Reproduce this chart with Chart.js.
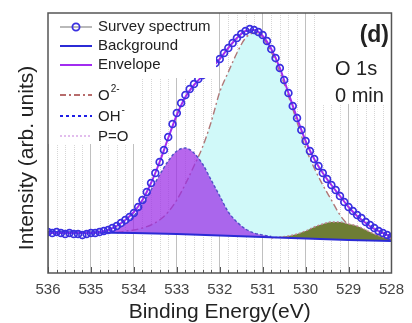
<!DOCTYPE html>
<html>
<head>
<meta charset="utf-8">
<script src="https://cdn.jsdelivr.net/npm/chart.js@4/dist/chart.umd.min.js"></script>
<style>
  body { margin: 0; background: #fff; }
  canvas { display: block; }
</style>
</head>
<body>
<canvas id="xps" width="412" height="323"></canvas>
<script>
// Binding energy axis (eV) and tick labels
const majorTicks = [536, 535, 534, 533, 532, 531, 530, 529, 528];

// Survey spectrum, 0.1 eV steps (arb. units)
const surveyE = [536.0, 535.9, 535.8, 535.7, 535.6, 535.5, 535.4, 535.3, 535.2, 535.1,
  535.0, 534.9, 534.8, 534.7, 534.6, 534.5, 534.4, 534.3, 534.2, 534.1,
  534.0, 533.9, 533.8, 533.7, 533.6, 533.5, 533.4, 533.3, 533.2, 533.1,
  533.0, 532.9, 532.8, 532.7, 532.6, 532.5, 532.4, 532.3, 532.2, 532.1,
  532.0, 531.9, 531.8, 531.7, 531.6, 531.5, 531.4, 531.3, 531.2, 531.1,
  531.0, 530.9, 530.8, 530.7, 530.6, 530.5, 530.4, 530.3, 530.2, 530.1,
  530.0, 529.9, 529.8, 529.7, 529.6, 529.5, 529.4, 529.3, 529.2, 529.1,
  529.0, 528.9, 528.8, 528.7, 528.6, 528.5, 528.4, 528.3, 528.2, 528.1, 528.0];
const survey = [41, 40, 41, 40, 39, 40, 39, 39, 38, 39,
  40, 40, 41, 42, 43, 45, 47, 50, 53, 56,
  60, 66, 73, 81, 90, 100, 111, 123, 136, 149,
  160, 170, 178, 184, 189, 194, 198, 202, 206, 210,
  214, 220, 225, 230, 235, 239, 242, 244, 243, 241,
  238, 232, 224, 215, 205, 193, 180, 167, 155, 143,
  132, 122, 114, 107, 100, 94, 88, 83, 77, 71,
  66, 62, 58, 55, 51, 48, 45, 42, 40, 38, 36];

// Envelope (fit sum)
const envelopeE = [536.0, 535.8, 535.6, 535.4, 535.2, 535.0, 534.8, 534.6, 534.4, 534.2,
  534.0, 533.8, 533.6, 533.4, 533.2, 533.0, 532.8, 532.6, 532.4, 532.2,
  532.0, 531.8, 531.6, 531.4, 531.2, 531.0, 530.8, 530.6, 530.4, 530.2,
  530.0, 529.8, 529.6, 529.4, 529.2, 529.0, 528.8, 528.6, 528.4, 528.2, 528.0];
const envelope = [40, 40, 40, 40, 40, 40, 41, 43, 47, 53,
  61, 73, 90, 111, 135, 158, 176, 188, 197, 205,
  214, 225, 235, 242, 243, 237, 224, 205, 180, 155,
  132, 114, 100, 88, 77, 66, 57, 50, 44, 40, 36];

// Background
const backgroundE = [536, 535, 534, 533, 532, 531, 530, 529, 528];
const background = [41, 40.5, 40, 39, 37.5, 36, 34.5, 33, 32];

// O2- component
const o2E = [534.4, 534.2, 534.0, 533.8, 533.6, 533.4, 533.2, 533.0, 532.8, 532.6,
  532.4, 532.2, 532.0, 531.8, 531.6, 531.4, 531.2, 531.0, 530.8, 530.6,
  530.4, 530.2, 530.0, 529.8, 529.6, 529.4, 529.2, 529.0, 528.8, 528.6, 528.4];
const o2 = [40, 42, 43, 45, 48, 53, 61, 73, 89, 107,
  126, 151, 181, 201, 220, 235, 240, 235, 221, 201,
  177, 151, 125, 105, 88, 73, 58, 48, 42, 37, 34];

// OH- component
const ohE = [534.8, 534.6, 534.4, 534.2, 534.0, 533.8, 533.6, 533.4, 533.2, 533.0,
  532.8, 532.6, 532.4, 532.2, 532.0, 531.8, 531.6, 531.4, 531.2, 531.0, 530.8];
const oh = [41, 41, 44, 49, 57, 69, 83, 98, 112, 122,
  125, 120, 109, 93, 77, 61, 51, 44, 40, 38, 36.5];

// P=O component
const poE = [530.8, 530.6, 530.4, 530.2, 530.0, 529.8, 529.6, 529.4, 529.2, 529.0,
  528.8, 528.6, 528.4, 528.2, 528.0];
const po = [35, 36, 37, 39, 42, 46, 49, 51, 51, 49,
  47, 43, 39, 36, 34];

const FONT = "'Liberation Sans', Arial, sans-serif";

function pts(xs, ys) {
  return xs.map((x, i) => ({ x: x, y: ys[i] }));
}

// minor grid every 0.2 eV
const minorTicks = [];
for (let k = 0; k <= 40; k++) minorTicks.push(528 + k * 0.2);

const minorGrid = {
  id: "minorGrid",
  beforeDatasetsDraw(chart) {
    const { ctx, chartArea: a, scales: { x } } = chart;
    ctx.save();
    ctx.strokeStyle = "#d6d6d6";
    ctx.lineWidth = 1;
    ctx.setLineDash([1, 1]);
    minorTicks.forEach(v => {
      if (Math.abs(v - Math.round(v)) < 1e-6) return;
      const px = Math.round(x.getPixelForValue(v)) + 0.5;
      ctx.beginPath();
      ctx.moveTo(px, a.top);
      ctx.lineTo(px, a.bottom);
      ctx.stroke();
    });
    ctx.restore();
  }
};

function legendLine(ctx, y, color, width, dash) {
  ctx.save();
  ctx.strokeStyle = color;
  ctx.lineWidth = width;
  ctx.setLineDash(dash);
  ctx.beginPath();
  ctx.moveTo(60, y);
  ctx.lineTo(92, y);
  ctx.stroke();
  ctx.restore();
}

const overlay = {
  id: "overlay",
  afterDatasetsDraw(chart) {
    const { ctx, chartArea: a, scales: { x } } = chart;
    ctx.save();
    // white legend / label boxes
    ctx.fillStyle = "#fff";
    ctx.fillRect(a.left, a.top, 168, 65);
    ctx.fillRect(a.left, a.top + 65, 92, 66);
    ctx.fillRect(322, a.top, a.right - 322, 91);

    // inner tick marks
    ctx.strokeStyle = "#555";
    ctx.lineWidth = 1;
    minorTicks.forEach(v => {
      const major = Math.abs(v - Math.round(v)) < 1e-6;
      const px = Math.round(x.getPixelForValue(v)) + 0.5;
      ctx.beginPath();
      ctx.moveTo(px, a.bottom);
      ctx.lineTo(px, a.bottom - (major ? 6 : 3));
      ctx.stroke();
    });

    // frame
    ctx.strokeStyle = "#555";
    ctx.lineWidth = 1.5;
    ctx.strokeRect(a.left, a.top, a.right - a.left, a.bottom - a.top);

    // legend symbols
    legendLine(ctx, 27, "#8a8a8a", 1.2, []);
    ctx.beginPath();
    ctx.arc(76, 27, 3.6, 0, Math.PI * 2);
    ctx.strokeStyle = "#3a30e0";
    ctx.lineWidth = 1.8;
    ctx.stroke();
    legendLine(ctx, 46, "#2b2bd6", 2, []);
    legendLine(ctx, 65, "#a22cf0", 2, []);
    legendLine(ctx, 95, "#a03c3c", 1.6, [6, 3, 2, 3]);
    legendLine(ctx, 116, "#1e1ee6", 2, [3, 3]);
    legendLine(ctx, 136, "#d9a8e8", 1.5, [2, 2]);

    // legend text
    ctx.fillStyle = "#222";
    ctx.textBaseline = "middle";
    ctx.textAlign = "left";
    ctx.font = "15px " + FONT;
    ctx.fillText("Survey spectrum", 98, 27);
    ctx.fillText("Background", 98, 46);
    ctx.fillText("Envelope", 98, 65);
    ctx.fillText("O", 98, 96);
    ctx.fillText("OH", 98, 117);
    ctx.fillText("P=O", 98, 137);
    const wO = ctx.measureText("O").width;
    const wOH = ctx.measureText("OH").width;
    ctx.font = "10px " + FONT;
    ctx.fillText("2-", 98 + wO + 1, 89);
    ctx.fillText("-", 98 + wOH + 1, 110);

    // panel labels
    ctx.font = "bold 23px " + FONT;
    ctx.textAlign = "right";
    ctx.fillText("(d)", 389, 36);
    ctx.font = "20px " + FONT;
    ctx.textAlign = "left";
    ctx.fillText("O 1s", 335, 69);
    ctx.fillText("0 min", 335, 96);

    // y axis title
    ctx.save();
    ctx.translate(27, 158);
    ctx.rotate(-Math.PI / 2);
    ctx.textAlign = "center";
    ctx.font = "21px " + FONT;
    ctx.fillText("Intensity (arb. units)", 0, 0);
    ctx.restore();

    ctx.restore();
  }
};

new Chart(document.getElementById("xps"), {
  type: "line",
  data: {
    datasets: [
      {
        label: "Background",
        data: pts(backgroundE, background),
        borderColor: "#2b2bd6",
        borderWidth: 2.2,
        pointRadius: 0,
        fill: false,
        order: 3
      },
      {
        label: "O2-",
        data: pts(o2E, o2),
        borderColor: "#b07878",
        borderWidth: 1.4,
        borderDash: [7, 3, 2, 3],
        backgroundColor: "#d0f9f9",
        pointRadius: 0,
        cubicInterpolationMode: "monotone",
        fill: { target: 0 },
        order: 6
      },
      {
        label: "OH-",
        data: pts(ohE, oh),
        borderColor: "#5050c8",
        borderWidth: 1.4,
        borderDash: [3, 2],
        backgroundColor: "rgba(155, 45, 230, 0.72)",
        pointRadius: 0,
        cubicInterpolationMode: "monotone",
        fill: { target: 0 },
        order: 5
      },
      {
        label: "P=O",
        data: pts(poE, po),
        borderColor: "#c08090",
        borderWidth: 1.4,
        borderDash: [2, 2],
        backgroundColor: "#6e7d35",
        pointRadius: 0,
        cubicInterpolationMode: "monotone",
        fill: { target: 0 },
        order: 4
      },
      {
        label: "Envelope",
        data: pts(envelopeE, envelope),
        borderColor: "#a22cf0",
        borderWidth: 2,
        pointRadius: 0,
        cubicInterpolationMode: "monotone",
        fill: false,
        order: 2
      },
      {
        label: "Survey spectrum",
        data: pts(surveyE, survey),
        showLine: false,
        pointRadius: 3.4,
        pointBorderWidth: 1.7,
        pointBorderColor: "#3a30e0",
        pointBackgroundColor: "rgba(0,0,0,0)",
        order: 1
      }
    ]
  },
  options: {
    responsive: false,
    animation: false,
    devicePixelRatio: 1,
    layout: { padding: { left: 48, right: 11, top: 13, bottom: 0 } },
    plugins: {
      legend: { display: false },
      tooltip: { enabled: false }
    },
    scales: {
      x: {
        type: "linear",
        reverse: true,
        min: 528,
        max: 536,
        afterBuildTicks: s => { s.ticks = majorTicks.map(v => ({ value: v })); },
        afterFit: s => { s.height = 50; },
        grid: { color: "#c0c0c0", lineWidth: 1, drawTicks: false },
        border: { display: false },
        ticks: {
          padding: 8,
          color: "#444",
          font: { family: FONT, size: 15 },
          callback: v => String(v)
        },
        title: {
          display: true,
          text: "Binding Energy(eV)",
          color: "#222",
          padding: 0,
          font: { family: FONT, size: 21, lineHeight: 1 }
        }
      },
      y: {
        display: false,
        min: 0,
        max: 260
      }
    }
  },
  plugins: [minorGrid, overlay]
});
</script>
</body>
</html>
